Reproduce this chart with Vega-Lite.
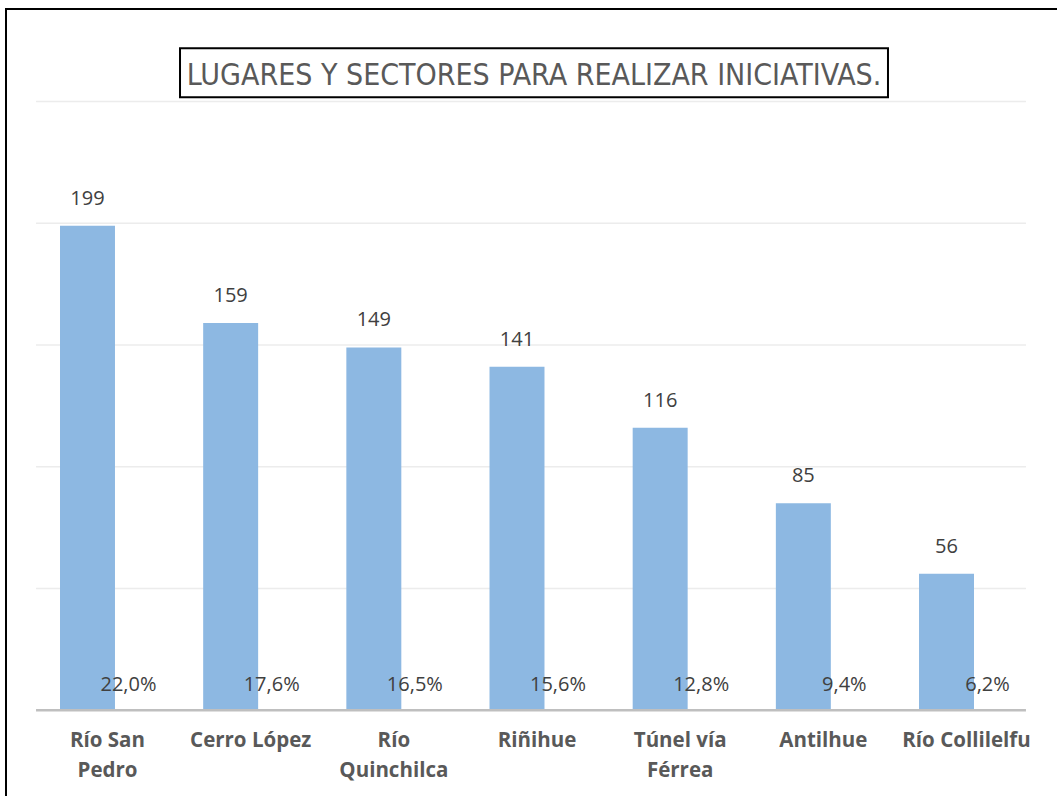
{
  "$schema": "https://vega.github.io/schema/vega-lite/v6.json",
  "autosize": {"type": "none"},
  "width": 1054,
  "height": 790,
  "padding": {"left": 6, "top": 9, "right": -3, "bottom": -3},
  "background": "white",
  "config": {"view": {"stroke": "#000000", "strokeWidth": 2}},
  "datasets": {
    "bars": [
      {"lugar": "Río San Pedro", "label": "Río San\nPedro", "n": 199, "pct": "22,0%"},
      {"lugar": "Cerro López", "label": "Cerro López", "n": 159, "pct": "17,6%"},
      {"lugar": "Río Quinchilca", "label": "Río\nQuinchilca", "n": 149, "pct": "16,5%"},
      {"lugar": "Riñihue", "label": "Riñihue", "n": 141, "pct": "15,6%"},
      {"lugar": "Túnel vía Férrea", "label": "Túnel vía\nFérrea", "n": 116, "pct": "12,8%"},
      {"lugar": "Antilhue", "label": "Antilhue", "n": 85, "pct": "9,4%"},
      {"lugar": "Río Collilelfu", "label": "Río Collilelfu", "n": 56, "pct": "6,2%"}
    ],
    "grid": [{"g": 50}, {"g": 100}, {"g": 150}, {"g": 200}, {"g": 250}],
    "title": [{"t": "LUGARES Y SECTORES PARA REALIZAR INICIATIVAS."}]
  },
  "resolve": {"scale": {"x": "independent"}},
  "layer": [
    {
      "data": {"name": "grid"},
      "mark": {"type": "rule", "color": "#ececec", "strokeWidth": 1.5},
      "encoding": {
        "x": {"datum": 0.0285, "type": "quantitative", "scale": {"domain": [0, 1], "range": [0, 1054]}, "axis": null},
        "x2": {"datum": 0.9677},
        "y": {"field": "g", "type": "quantitative", "scale": {"domain": [-36.5, 288], "zero": false, "nice": false}, "axis": null}
      }
    },
    {
      "data": {"name": "title"},
      "layer": [
        {
          "mark": {"type": "rect", "fill": "white", "stroke": "#000000", "strokeWidth": 2},
          "encoding": {
            "x": {"datum": 0.1651, "type": "quantitative", "scale": {"domain": [0, 1], "range": [0, 1054]}, "axis": null},
            "x2": {"datum": 0.8368},
            "y": {"datum": 271.9, "type": "quantitative", "scale": {"domain": [-36.5, 288], "zero": false, "nice": false}, "axis": null},
            "y2": {"datum": 251.8}
          }
        },
        {
          "mark": {"type": "text", "font": "DejaVu Sans Condensed, Roboto", "fontSize": 30, "color": "#595959", "align": "center", "baseline": "middle"},
          "encoding": {
            "x": {"datum": 0.501, "type": "quantitative", "scale": {"domain": [0, 1], "range": [0, 1054]}, "axis": null},
            "y": {"datum": 260.6, "type": "quantitative", "scale": {"domain": [-36.5, 288], "zero": false, "nice": false}, "axis": null},
            "text": {"field": "t"}
          }
        }
      ]
    },
    {
      "data": {"name": "bars"},
      "encoding": {
        "x": {"field": "lugar", "type": "nominal", "sort": null, "scale": {"range": [54, 968], "paddingInner": 0.616, "paddingOuter": 0}, "axis": null}
      },
      "layer": [
        {
          "mark": {"type": "bar", "color": "#8db8e2"},
          "encoding": {
            "y": {"field": "n", "type": "quantitative", "scale": {"domain": [-36.5, 288], "zero": false, "nice": false}, "axis": null},
            "y2": {"datum": 0}
          }
        },
        {
          "mark": {"type": "text", "font": "Open Sans", "fontSize": 20, "color": "#404040", "baseline": "middle", "dy": -27},
          "encoding": {
            "y": {"field": "n", "type": "quantitative", "scale": {"domain": [-36.5, 288], "zero": false, "nice": false}, "axis": null},
            "text": {"field": "n"}
          }
        },
        {
          "mark": {"type": "text", "font": "Open Sans", "fontSize": 20, "color": "#404040", "baseline": "middle", "dx": 41},
          "encoding": {
            "y": {"datum": 10.3, "type": "quantitative", "scale": {"domain": [-36.5, 288], "zero": false, "nice": false}, "axis": null},
            "text": {"field": "pct"}
          }
        },
        {
          "mark": {"type": "text", "font": "Open Sans", "fontSize": 20.5, "fontWeight": "bold", "color": "#595959", "baseline": "middle", "dx": 20, "lineBreak": "\n", "lineHeight": 30},
          "encoding": {
            "y": {"datum": -12.7, "type": "quantitative", "scale": {"domain": [-36.5, 288], "zero": false, "nice": false}, "axis": null},
            "text": {"field": "label"}
          }
        }
      ]
    },
    {
      "data": {"values": [{"z": 0}]},
      "mark": {"type": "rule", "color": "#bfbfbf", "strokeWidth": 2.5},
      "encoding": {
        "x": {"datum": 0.0285, "type": "quantitative", "scale": {"domain": [0, 1], "range": [0, 1054]}, "axis": null},
        "x2": {"datum": 0.9677},
        "y": {"field": "z", "type": "quantitative", "scale": {"domain": [-36.5, 288], "zero": false, "nice": false}, "axis": null}
      }
    }
  ]
}
